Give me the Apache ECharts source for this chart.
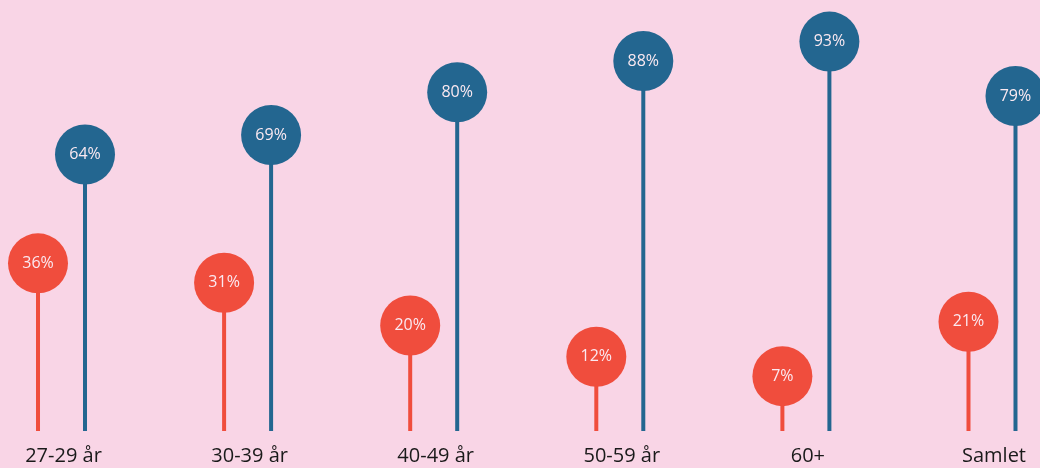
<!DOCTYPE html>
<html>
<head>
<meta charset="utf-8">
<script src="https://cdn.jsdelivr.net/npm/echarts@6/dist/echarts.min.js"></script>
<style>
html,body{margin:0;padding:0;background:#F9D5E6;}
#chart{width:1040px;height:468px;}
</style>
</head>
<body>
<div id="chart"></div>
<script>
var categories = ['27-29 år', '30-39 år', '40-49 år', '50-59 år', '60+', 'Samlet'];
var redValues = [36, 31, 20, 12, 7, 21];
var blueValues = [64, 69, 80, 88, 93, 79];

var Y_MIN = -7.1, Y_MAX = 103.7;
var X_MIN = -0.3305, X_MAX = 5.258;
var RED = '#F04D3D', BLUE = '#236690';
var FONT = 'Open Sans, sans-serif';

function makeSeries(values, color, offset) {
  return {
    type: 'custom',
    data: values.map(function (v, i) { return [i, v]; }),
    renderItem: function (params, api) {
      var idx = api.value(0), val = api.value(1);
      var top = api.coord([idx, val]);
      var base = api.coord([idx, Y_MIN]);
      var x = top[0] + offset;
      return {
        type: 'group',
        children: [
          { type: 'line', shape: { x1: x, y1: base[1], x2: x, y2: top[1] },
            style: { stroke: color, lineWidth: 4 } },
          { type: 'circle', shape: { cx: x, cy: top[1], r: 30 },
            style: { fill: color } },
          { type: 'text', x: x, y: top[1],
            style: { text: val + '%', fill: '#FBE9F1', fontSize: 16,
              fontFamily: FONT, align: 'center', verticalAlign: 'middle' } }
        ]
      };
    }
  };
}

var chart = echarts.init(document.getElementById('chart'));
chart.setOption({
  backgroundColor: '#F9D5E6',
  animation: false,
  grid: { left: 0, right: 0, top: 0, bottom: 37 },
  xAxis: {
    type: 'value', min: X_MIN, max: X_MAX, show: false, splitLine: { show: false }
  },
  yAxis: {
    type: 'value', min: Y_MIN, max: Y_MAX,
    show: false, splitLine: { show: false }
  },
  series: [
    makeSeries(redValues, RED, -23.5),
    makeSeries(blueValues, BLUE, 23.5),
    {
      type: 'custom',
      data: categories.map(function (c, i) { return [i, 0]; }),
      renderItem: function (params, api) {
        var p = api.coord([api.value(0), Y_MIN]);
        return { type: 'text', x: p[0] + 2, y: p[1] + 25,
          style: { text: categories[params.dataIndex], fill: '#1a1a1a', fontSize: 20,
            fontFamily: FONT, align: 'center', verticalAlign: 'middle' } };
      }
    }
  ]
});
</script>
</body>
</html>
